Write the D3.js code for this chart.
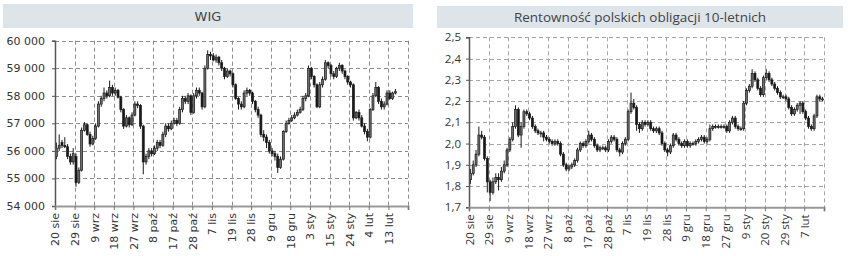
<!DOCTYPE html>
<html><head><meta charset="utf-8">
<script src="https://cdn.jsdelivr.net/npm/d3@7"></script>
<style>
body{margin:0;background:#fff;}
svg{display:block;}
</style></head>
<body>
<svg id="c" width="855" height="256"></svg>
<script>
// ---------- DATA ----------
const wigTickLabels = ["20 sie","29 sie","9 wrz","18 wrz","27 wrz","8 paź","17 paź","28 paź","7 lis","19 lis","28 lis","9 gru","18 gru","3 sty","15 sty","24 sty","4 lut","13 lut"];
const bondTickLabels = ["20 sie","29 sie","9 wrz","18 wrz","27 wrz","8 paź","17 paź","28 paź","7 lis","19 lis","28 lis","9 gru","18 gru","27 gru","9 sty","20 sty","29 sty","7 lut"];
const wigYTicks = [54000,55000,56000,57000,58000,59000,60000];
const bondYTicks = [1.7,1.8,1.9,2.0,2.1,2.2,2.3,2.4,2.5];

const wigOpen = [55800,56100,56300,56200,56150,55800,55600,55800,54850,55300,56750,56950,56600,56250,56450,56900,57700,57900,58100,58000,58300,58100,58200,57950,57500,56900,57200,56950,57300,57700,57650,56900,55600,55800,56000,55900,56100,56300,56200,56600,56900,56800,57000,57100,57000,57500,57900,57800,58000,57400,58000,58200,58100,57600,59000,59500,59450,59300,59400,59200,59000,58700,58900,58800,58400,57900,57700,57600,58100,58200,58100,57800,57500,57300,56600,56500,56300,56000,55900,55800,55400,55700,56700,57000,57100,57200,57300,57400,57500,57900,58000,59000,58700,58400,57600,58400,58600,59200,59100,58800,58700,59000,59100,58900,58700,58500,58400,57200,57400,57200,56900,56700,56500,57500,58000,58300,57800,57600,57700,58100,57900,58100];
const wigHigh = [56300,56600,56400,56500,56250,55900,56100,55900,55400,56850,57050,57000,56700,56550,57000,57800,58000,58300,58200,58550,58400,58300,58250,58000,57550,57300,57250,57400,57800,57800,57700,56950,55900,56100,56100,56200,56400,56400,56700,57000,57000,57100,57200,57200,57600,58000,58000,58100,58050,58100,58300,58300,58150,59100,59650,59600,59550,59500,59450,59300,59050,59000,58950,58850,58450,57950,57800,58200,58300,58250,58150,57850,57600,57350,56750,56600,56400,56100,56000,55900,55800,56750,57100,57200,57300,57400,57500,57600,58000,58100,59100,59050,58750,58450,58500,58700,59300,59250,59150,58900,59050,59200,59150,58950,58750,58550,58450,57450,57500,57300,57000,56800,57550,58100,58500,58350,57900,57800,58200,58200,58150,58250];
const wigLow = [55700,56000,56100,56100,55700,55500,55500,54700,54800,55250,56700,56550,56150,56200,56400,56850,57600,57800,57900,57950,58000,58000,57900,57400,56800,56850,56850,56900,57250,57550,56800,55150,55500,55700,55800,55850,56000,56100,56150,56500,56700,56750,56950,56900,56950,57400,57700,57700,57300,57350,57900,58000,57500,57550,58950,59300,59250,59200,59100,58900,58600,58650,58700,58300,57850,57500,57500,57550,58000,58000,57700,57400,57200,56500,56350,56100,55900,55800,55650,55200,55350,55650,56650,56950,57050,57150,57250,57350,57450,57800,57950,58600,58300,57550,57550,58300,58550,59000,58700,58600,58650,58900,58800,58600,58400,58300,57100,57150,57100,56850,56600,56350,56450,57450,57950,57700,57500,57500,57650,57850,57850,58050];
const wigClose = [56100,56200,56200,56150,55800,55600,55900,54850,55300,56750,56950,56600,56250,56450,56900,57700,57900,58100,58000,58300,58100,58200,57950,57500,56900,57200,56950,57300,57700,57650,56900,55600,55800,56000,55900,56100,56300,56200,56600,56900,56800,57000,57100,57000,57500,57900,57800,58000,57400,58000,58200,58100,57600,59000,59500,59450,59300,59400,59200,59000,58700,58900,58800,58400,57900,57700,57600,58100,58200,58100,57800,57500,57300,56600,56500,56300,56000,55900,55800,55400,55700,56700,57000,57100,57200,57300,57400,57500,57900,58000,59000,58700,58400,57600,58400,58600,59200,59100,58800,58700,59000,59100,58900,58700,58500,58400,57200,57400,57200,56900,56700,56500,57500,58000,58300,57800,57600,57700,58100,57900,58100,58150];

const bondOpen = [1.83,1.86,1.90,1.95,2.04,2.03,1.93,1.82,1.77,1.82,1.84,1.83,1.87,1.90,1.97,2.02,2.08,2.16,2.04,2.08,2.15,2.14,2.12,2.08,2.06,2.05,2.05,2.03,2.02,2.01,2.00,2.01,2.00,1.95,1.90,1.88,1.89,1.90,1.92,1.97,2.00,1.99,2.01,2.04,2.02,1.99,1.97,1.98,1.98,1.97,2.01,2.03,2.02,1.97,1.96,2.00,2.02,2.15,2.19,2.17,2.09,2.07,2.10,2.09,2.10,2.07,2.06,2.07,2.05,2.00,1.97,1.96,1.99,2.04,2.02,2.00,1.99,2.01,1.99,2.00,2.00,2.01,2.02,2.03,2.01,2.02,2.07,2.08,2.08,2.08,2.08,2.08,2.06,2.10,2.12,2.08,2.07,2.07,2.19,2.25,2.27,2.33,2.30,2.26,2.23,2.31,2.33,2.30,2.28,2.26,2.24,2.22,2.22,2.21,2.17,2.14,2.16,2.18,2.19,2.15,2.12,2.08,2.07,2.13,2.22,2.21];
const bondHigh = [1.88,1.92,1.97,2.08,2.06,2.04,1.94,1.83,1.84,1.86,1.86,1.89,1.92,1.98,2.03,2.10,2.18,2.17,2.10,2.16,2.16,2.15,2.13,2.09,2.07,2.06,2.06,2.04,2.03,2.02,2.02,2.02,2.01,1.96,1.91,1.90,1.91,1.93,1.98,2.01,2.01,2.02,2.06,2.05,2.03,2.00,1.99,1.99,1.99,2.02,2.04,2.04,2.03,1.98,2.01,2.03,2.16,2.24,2.21,2.18,2.10,2.11,2.11,2.11,2.11,2.08,2.08,2.08,2.06,2.01,1.98,2.00,2.05,2.05,2.03,2.01,2.02,2.02,2.01,2.01,2.02,2.03,2.04,2.04,2.03,2.09,2.09,2.09,2.09,2.09,2.09,2.09,2.11,2.13,2.13,2.09,2.08,2.20,2.26,2.28,2.35,2.34,2.31,2.27,2.32,2.35,2.34,2.31,2.29,2.27,2.25,2.23,2.23,2.22,2.18,2.17,2.19,2.20,2.20,2.16,2.13,2.09,2.14,2.23,2.23,2.22];
const bondLow = [1.81,1.85,1.89,1.94,2.02,1.92,1.77,1.73,1.76,1.81,1.78,1.82,1.86,1.89,1.96,2.01,2.07,2.03,1.98,2.07,2.13,2.11,2.07,2.05,2.04,2.03,2.01,2.01,2.00,1.99,1.99,1.99,1.94,1.89,1.87,1.87,1.88,1.89,1.91,1.96,1.98,1.98,2.00,2.01,1.98,1.96,1.96,1.97,1.96,1.96,2.00,2.01,1.96,1.94,1.95,1.99,2.01,2.14,2.16,2.06,2.05,2.06,2.08,2.08,2.06,2.05,2.05,2.04,1.99,1.96,1.94,1.95,1.98,2.01,1.99,1.98,1.98,1.98,1.98,1.99,1.99,2.00,2.01,2.00,2.00,2.01,2.06,2.07,2.07,2.07,2.07,2.05,2.05,2.09,2.07,2.06,2.06,2.06,2.18,2.24,2.26,2.29,2.25,2.22,2.22,2.30,2.29,2.27,2.25,2.23,2.21,2.21,2.20,2.16,2.13,2.13,2.15,2.14,2.14,2.11,2.07,2.06,2.06,2.12,2.20,2.20];
const bondClose = [1.86,1.90,1.95,2.04,2.03,1.93,1.82,1.77,1.82,1.84,1.83,1.87,1.90,1.97,2.02,2.08,2.16,2.04,2.08,2.15,2.14,2.12,2.08,2.06,2.05,2.05,2.03,2.02,2.01,2.00,2.01,2.00,1.95,1.90,1.88,1.89,1.90,1.92,1.97,2.00,1.99,2.01,2.04,2.02,1.99,1.97,1.98,1.98,1.97,2.01,2.03,2.02,1.97,1.96,2.00,2.02,2.15,2.19,2.17,2.09,2.07,2.10,2.09,2.10,2.07,2.06,2.07,2.05,2.00,1.97,1.96,1.99,2.04,2.02,2.00,1.99,2.01,1.99,2.00,2.00,2.01,2.02,2.03,2.01,2.02,2.07,2.08,2.08,2.08,2.08,2.08,2.06,2.10,2.12,2.08,2.07,2.07,2.19,2.25,2.27,2.33,2.30,2.26,2.23,2.31,2.33,2.30,2.28,2.26,2.24,2.22,2.22,2.21,2.17,2.14,2.16,2.18,2.19,2.15,2.12,2.08,2.07,2.13,2.22,2.21,2.21];

// ---------- DRAW ----------
const svg = d3.select("#c");

function panel(cfg){
  const g = svg.append("g");
  // title band
  g.append("rect").attr("x",cfg.band[0]).attr("y",cfg.band[1]).attr("width",cfg.band[2]).attr("height",cfg.band[3]).attr("fill","#dde4ea");
  g.append("text").attr("x",cfg.band[0]+cfg.band[2]/2).attr("y",cfg.band[1]+cfg.band[3]/2+5)
    .attr("text-anchor","middle").attr("font-family",cfg.font).attr("font-size",cfg.titleSize).attr("fill","#444").text(cfg.title);

  const x = d3.scaleLinear().domain([0,126]).range([cfg.left,cfg.right]);
  const y = d3.scaleLinear().domain(cfg.yDomain).range([cfg.bottom,cfg.top]);
  const tickIdx = cfg.tickLabels.map((d,i)=>i*7);

  // grid
  const grid = g.append("g").attr("stroke",cfg.gridColor).attr("stroke-width",1).attr("stroke-dasharray","4,3");
  cfg.yTicks.slice(1).forEach(v=>{
    grid.append("line").attr("x1",cfg.left).attr("x2",cfg.right).attr("y1",Math.round(y(v))+0.5).attr("y2",Math.round(y(v))+0.5);
  });
  tickIdx.slice(1).concat([126]).forEach(t=>{
    grid.append("line").attr("x1",Math.round(x(t))+0.5).attr("x2",Math.round(x(t))+0.5).attr("y1",cfg.top).attr("y2",cfg.bottom);
  });

  // candles
  const cg = g.append("g");
  const bw = 2;
  cfg.close.forEach((c,i)=>{
    const o = cfg.open[i], h = cfg.high[i], l = cfg.low[i];
    const cx = x(i+0.5);
    cg.append("line").attr("x1",cx).attr("x2",cx).attr("y1",y(h)).attr("y2",y(l)).attr("stroke","#1a1a1a").attr("stroke-width",1);
    const top = y(Math.max(o,c)), bot = y(Math.min(o,c));
    cg.append("rect").attr("x",cx-bw/2).attr("y",top).attr("width",bw).attr("height",Math.max(1,bot-top))
      .attr("fill", c>=o ? "#6e6e6e" : "#1a1a1a").attr("stroke","#1a1a1a").attr("stroke-width",0.7);
  });

  // y axis
  const ya = g.append("g").attr("transform",`translate(${cfg.left},0)`)
    .call(d3.axisLeft(y).tickValues(cfg.yTicks).tickSize(3).tickFormat(cfg.yFmt));
  ya.select(".domain").attr("stroke","#555").attr("stroke-width",1.5);
  ya.selectAll(".tick line").attr("stroke","#555");
  ya.selectAll("text").attr("font-family",cfg.font).attr("font-size",cfg.labelSize).attr("fill","#333").attr("dx",cfg.ydx);

  // x axis
  const xa = g.append("g").attr("transform",`translate(0,${cfg.bottom})`)
    .call(d3.axisBottom(x).tickValues(tickIdx.concat([126])).tickSize(4).tickFormat((d,i)=>cfg.tickLabels[i]||""));
  xa.select(".domain").attr("stroke","#999").attr("stroke-width",2);
  xa.selectAll(".tick line").attr("stroke","#777");
  xa.selectAll("text").attr("font-family",cfg.font).attr("font-size",cfg.labelSize).attr("fill","#333")
    .attr("transform","rotate(-90)").attr("text-anchor","end").attr("x",-7).attr("y",0).attr("dy","0.35em");
}

const fmtWig = d => d3.format(",")(d).replace(/,/g," ");
const fmtBond = d => d3.format(".1f")(d).replace(".",",");

panel({band:[3,4,410,24], title:"WIG", font:"DejaVu Sans", titleSize:13, labelSize:11, ydx:-4, gridColor:"#8c8c8c",
  left:55, right:408, top:40.7, bottom:206, yDomain:[54000,60000], yTicks:wigYTicks, yFmt:fmtWig,
  tickLabels:wigTickLabels, open:wigOpen, high:wigHigh, low:wigLow, close:wigClose});

panel({band:[437,6,406,22], title:"Rentowność polskich obligacji 10-letnich", font:"Open Sans", titleSize:13.5, labelSize:11.5, ydx:-2, gridColor:"#a6a6a6",
  left:469, right:824, top:37.3, bottom:207.3, yDomain:[1.7,2.5], yTicks:bondYTicks, yFmt:fmtBond,
  tickLabels:bondTickLabels, open:bondOpen, high:bondHigh, low:bondLow, close:bondClose});
</script>
</body></html>
